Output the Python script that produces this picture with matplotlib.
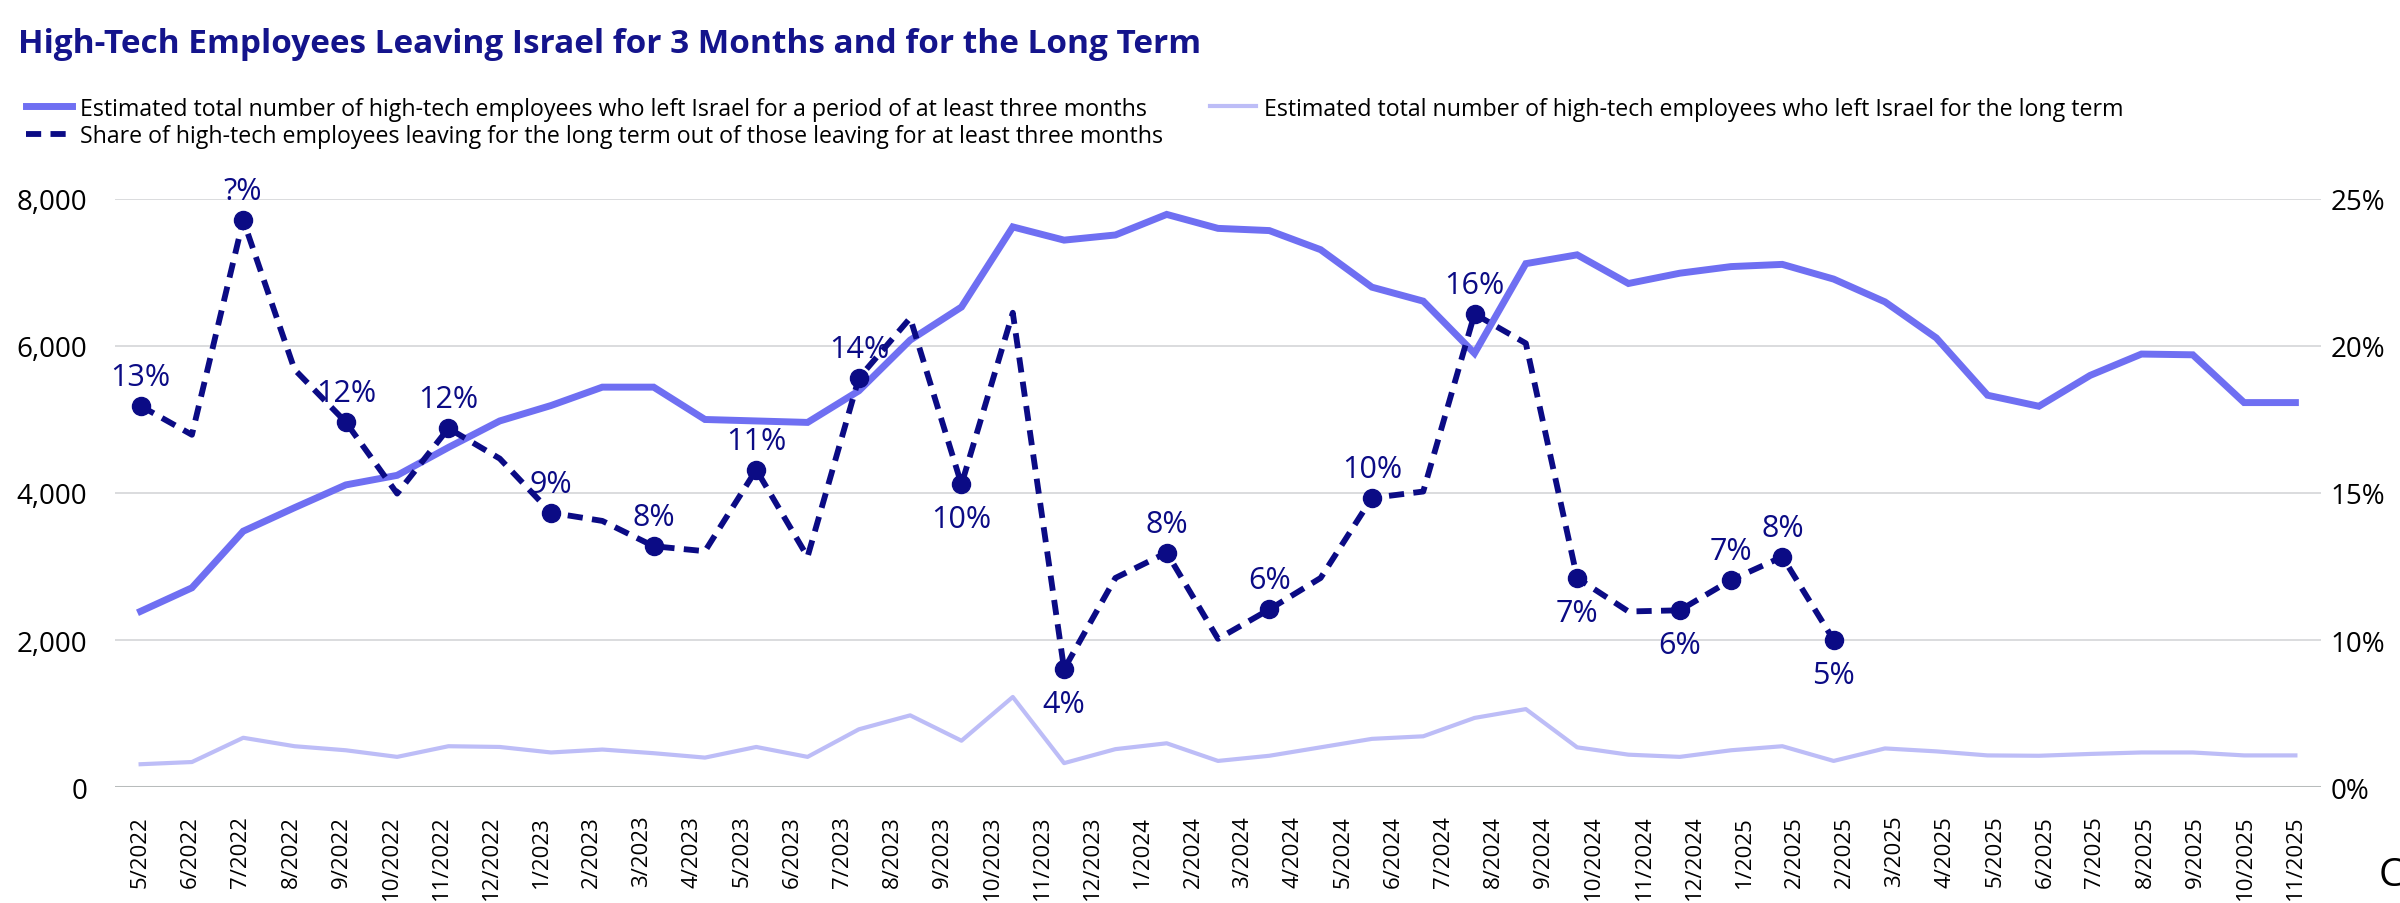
import numpy as np
import matplotlib.pyplot as plt

plt.rcParams['font.family'] = ['Open Sans', 'DejaVu Sans']

##### Data #####
# one point per month, 5/2022 .. 11/2025
months = ["5/2022", "6/2022", "7/2022", "8/2022", "9/2022", "10/2022", "11/2022", "12/2022",
          "1/2023", "2/2023", "3/2023", "4/2023", "5/2023", "6/2023", "7/2023", "8/2023",
          "9/2023", "10/2023", "11/2023", "12/2023", "1/2024", "2/2024", "3/2024", "4/2024",
          "5/2024", "6/2024", "7/2024", "8/2024", "9/2024", "10/2024", "11/2024", "12/2024",
          "1/2025", "2/2025", "3/2025", "4/2025", "5/2025", "6/2025", "7/2025", "8/2025",
          "9/2025", "10/2025", "11/2025"]

# axis labels as printed on the chart (2/2025 shows up twice)
tick_labels = months[:34] + ["2/2025"] + months[34:]

left_3_months = [2390, 2710, 3480, 3800, 4110, 4240, 4620, 4980, 5190, 5440, 5440, 5000,
                 4980, 4960, 5390, 6080, 6530, 7620, 7440, 7510, 7790, 7600, 7570, 7310,
                 6800, 6610, 5900, 7120, 7240, 6850, 6990, 7080, 7110, 6910, 6600, 6110,
                 5330, 5180, 5600, 5890, 5880, 5230, 5230]

left_long_term = [310, 340, 670, 555, 500, 410, 555, 545, 470, 510, 460, 400,
                  545, 410, 785, 975, 630, 1225, 325, 515, 595, 355, 425, 540,
                  655, 690, 940, 1060, 540, 440, 410, 500, 555, 355, 525, 485,
                  430, 425, 450, 470, 470, 430, 430]

# share (%) of long-term leavers, available until 2/2025
share_pct = [12.96, 11.98, 19.28, 14.20, 12.41, 9.98, 12.20, 11.17, 9.33, 9.05, 8.19, 8.02,
             10.79, 7.83, 13.91, 15.95, 10.29, 16.13, 4.01, 7.11, 7.97, 5.04, 6.04, 7.11,
             9.83, 10.05, 16.09, 15.09, 7.11, 5.97, 6.01, 7.04, 7.83, 5.00]

marked_idx = [0, 2, 4, 6, 8, 10, 12, 14, 16, 18, 20, 22, 24, 26, 28, 30, 31, 32, 33]
marked_text = ["13%", "?%", "12%", "12%", "9%", "8%", "11%", "14%", "10%", "4%", "8%",
               "6%", "10%", "16%", "7%", "6%", "7%", "8%", "5%"]
text_below = [16, 18, 28, 30, 33]

left_ticks = [0, 2000, 4000, 6000, 8000]
right_ticks = [0, 5, 10, 15, 20]
right_tick_labels = ["0%", "10%", "15%", "20%", "25%"]

title = "High-Tech Employees Leaving Israel for 3 Months and for the Long Term"
lbl_main = "Estimated total number of high-tech employees who left Israel for a period of at least three months"
lbl_share = "Share of high-tech employees leaving for the long term out of those leaving for at least three months"
lbl_long = "Estimated total number of high-tech employees who left Israel for the long term"

##### Style #####
c_main = "#6f6ff2"
c_long = "#bdbdf7"
c_share = "#0b0b85"
c_title = "#14148c"

fig = plt.figure(figsize=(24, 9.04), dpi=100)
ax = fig.add_axes([0.0479, 0.1283, 0.9192, 0.6505])
ax2 = ax.twinx()

x = np.arange(len(months))
l1, = ax.plot(x, left_3_months, color=c_main, lw=5, solid_joinstyle='miter', zorder=3)
l3, = ax.plot(x, left_long_term, color=c_long, lw=3, zorder=3)
xs = x[:len(share_pct)]
l2, = ax2.plot(xs, share_pct, color=c_share, lw=4.2, dashes=(2.6, 1.6), zorder=4)
ax2.plot(xs[marked_idx], np.array(share_pct)[marked_idx], 'o', color=c_share,
         ms=13, zorder=5)
for i, t in zip(marked_idx, marked_text):
    dy = -25 if i in text_below else 21
    ax2.annotate(t, (xs[i], share_pct[i]), xytext=(0, dy), textcoords='offset points',
                 ha='center', va='center', fontsize=22, color=c_share)

ax.set_xlim(-0.5, 42.5)
ax.set_ylim(0, 8000)
ax2.set_ylim(0, 20)

ax.set_yticks(left_ticks)
ax.set_yticklabels([f"{v:,}" for v in left_ticks])
ax2.set_yticks(right_ticks)
ax2.set_yticklabels(right_tick_labels)
ax.set_xticks(np.linspace(0, len(months) - 1, len(tick_labels)))
ax.set_xticklabels(tick_labels, rotation=90, fontsize=16)

ax.tick_params(axis='y', length=0, pad=20, labelsize=20)
ax2.tick_params(axis='y', length=0, pad=7, labelsize=20)
ax.tick_params(axis='x', length=0, pad=20)
ax.grid(axis='y', color='#d4d6d8', lw=1.2)
ax.axhline(0, color='#b8bcbc', lw=2.2, zorder=2)
for a in (ax, ax2):
    for s in a.spines.values():
        s.set_visible(False)

fig.text(0.0075, 0.951, title, fontsize=24, fontweight='bold', color=c_title,
         va='center', ha='left')
fig.legend([l1, l2, l3], [lbl_main, lbl_share, lbl_long], ncol=2,
           loc='upper left', bbox_to_anchor=(0.004, 0.91), frameon=False,
           fontsize=16.7, handlelength=2.0, handletextpad=0.35, columnspacing=2.0,
           labelspacing=0.15, borderpad=0.2)
fig.text(0.991, 0.02, "C", fontsize=28, color='black', ha='left', va='baseline')

plt.savefig("out.png", dpi=100)
